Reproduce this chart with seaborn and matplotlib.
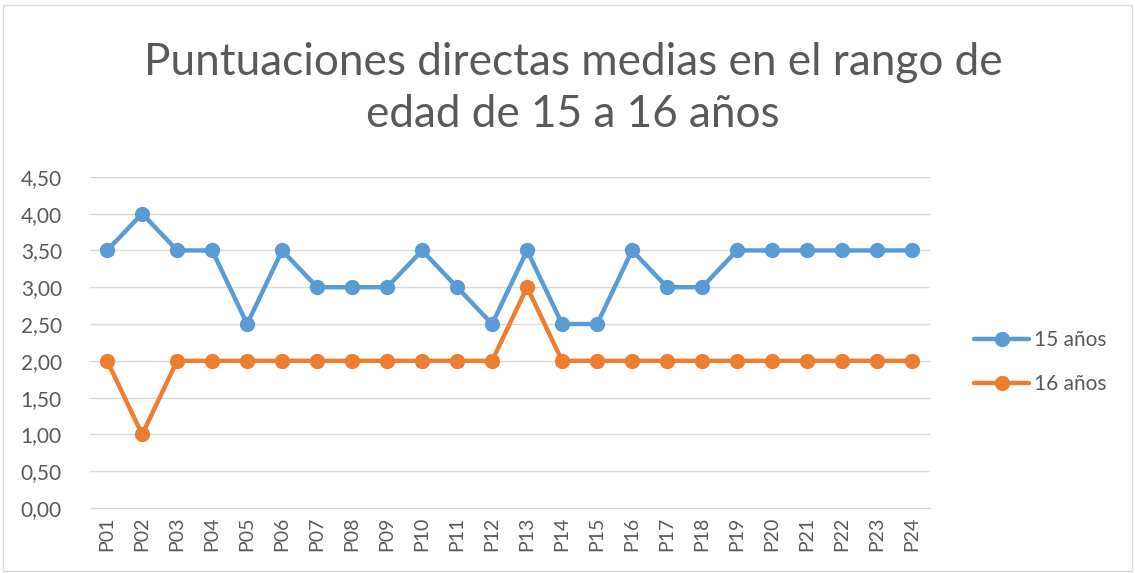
import numpy as np
import pandas as pd
import seaborn as sns
import matplotlib.pyplot as plt
from matplotlib.ticker import FuncFormatter
from matplotlib.lines import Line2D
from matplotlib.patches import Rectangle

preguntas = ['P%02d' % i for i in range(1, 25)]
edad_15 = [3.5, 4.0, 3.5, 3.5, 2.5, 3.5, 3.0, 3.0, 3.0, 3.5, 3.0, 2.5,
           3.5, 2.5, 2.5, 3.5, 3.0, 3.0, 3.5, 3.5, 3.5, 3.5, 3.5, 3.5]
edad_16 = [2.0, 1.0, 2.0, 2.0, 2.0, 2.0, 2.0, 2.0, 2.0, 2.0, 2.0, 2.0,
           3.0, 2.0, 2.0, 2.0, 2.0, 2.0, 2.0, 2.0, 2.0, 2.0, 2.0, 2.0]
series = ['15 años', '16 años']
colores = ['#5b9bd5', '#ed7d31']

df = pd.DataFrame({'Pregunta': preguntas * 2,
                   'Valor': edad_15 + edad_16,
                   'Serie': [series[0]] * 24 + [series[1]] * 24})

sns.set_style('white')
plt.rcParams['font.family'] = ['Lato', 'DejaVu Sans']

fig = plt.figure(figsize=(11.35, 5.73), dpi=100)
ax = fig.add_axes([0.079, 0.1134, 0.740, 0.578])

sns.lineplot(data=df, x='Pregunta', y='Valor', hue='Serie', palette=colores,
             marker='o', markersize=11, markeredgewidth=0, linewidth=3.2,
             sort=False, legend=False, ax=ax)

ax.set_ylim(0, 4.5)
ax.set_yticks(np.arange(0, 4.51, 0.5))
ax.yaxis.set_major_formatter(FuncFormatter(lambda v, p: ('%.2f' % v).replace('.', ',')))
ax.set_xlim(-0.5, 23.5)
ax.grid(axis='y', color='#d9d9d9', linewidth=1)
ax.set_axisbelow(True)
for s in ['top', 'right', 'left']:
    ax.spines[s].set_visible(False)
ax.spines['bottom'].set_color('#d9d9d9')
ax.tick_params(axis='x', rotation=90, labelsize=14, colors='#595959', length=0, pad=6)
ax.tick_params(axis='y', labelsize=15, colors='#595959', length=0, pad=20)
ax.set_xlabel('')
ax.set_ylabel('')

handles = [Line2D([], [], color=c, marker='o', markersize=11, markeredgewidth=0, linewidth=3.2)
           for c in colores]
fig.legend(handles, series, loc='center left', bbox_to_anchor=(0.842, 0.368),
           frameon=False, fontsize=15, labelcolor='#595959', handlelength=2.6,
           handletextpad=0.25, labelspacing=1.15)

fig.suptitle('Puntuaciones directas medias en el rango de\nedad de 15 a 16 años',
             x=0.505, y=0.845, va='center', fontsize=31.8, color='#595959',
             linespacing=1.33)

fig.patches.append(Rectangle((0.003, 0.003), 0.994, 0.988, transform=fig.transFigure,
                             fill=False, edgecolor='#d9d9d9', linewidth=1))

fig.savefig('out.png', dpi=100)
